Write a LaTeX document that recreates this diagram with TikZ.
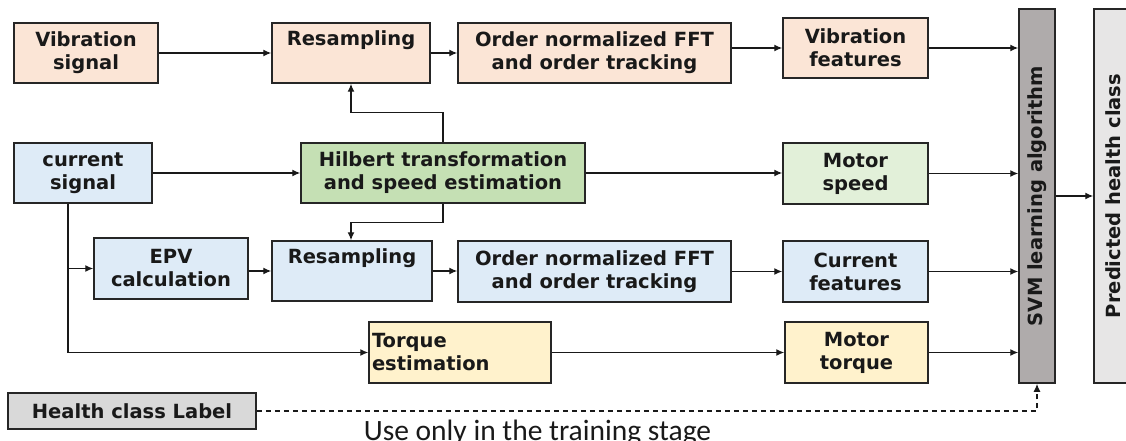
\documentclass[tikz,border=0pt]{standalone}
\usepackage{fontspec}
\setmainfont{DejaVu Sans}
\newfontfamily\notefont{Carlito}
\usetikzlibrary{arrows.meta}
\definecolor{peach}{HTML}{FBE5D6}
\definecolor{lblue}{HTML}{DEEBF7}
\definecolor{dgreen}{HTML}{C5E0B4}
\definecolor{lgreen}{HTML}{E2F0D9}
\definecolor{lyellow}{HTML}{FFF2CC}
\definecolor{svmgray}{HTML}{AFABAB}
\definecolor{predgray}{HTML}{E7E6E6}
\definecolor{lblgray}{HTML}{D9D9D9}
\definecolor{edge}{HTML}{262626}
\tikzset{
  blk/.style={draw=edge, line width=1.5pt, rectangle, inner sep=0pt, align=center,
    font=\fontsize{19.5}{23}\selectfont\bfseries, text=black!90},
  arr/.style={-{Latex[length=8pt,width=7pt]}, line width=1.3pt, draw=black!90},
  darr/.style={arr, dash pattern=on 5pt off 4pt},
}
\begin{document}
\begin{tikzpicture}[x=1pt,y=-1pt]
\useasboundingbox (0,0) rectangle (1126,441);
\clip (0,0) rectangle (1126,441);
% top row
\node[blk, fill=peach, minimum width=144, minimum height=60] (vib) at (86,53) {Vibration\\signal};
\node[blk, fill=peach, minimum width=158, minimum height=60] (res1) at (351,53) {Resampling\\\strut};
\node[blk, fill=peach, minimum width=273, minimum height=60] (fft1) at (594.5,53) {Order normalized FFT\\and order tracking};
\node[blk, fill=peach, minimum width=145, minimum height=60] (vibf) at (855.5,48) {Vibration\\features};
% middle row
\node[blk, fill=lblue, minimum width=138, minimum height=60] (cur) at (83,173) {current\\signal};
\node[blk, fill=dgreen, minimum width=284, minimum height=60] (hil) at (443,173) {Hilbert transformation\\and speed estimation};
\node[blk, fill=lgreen, minimum width=145, minimum height=61] (spd) at (855.5,173.5) {Motor\\speed};
% current row
\node[blk, fill=lblue, minimum width=154, minimum height=61] (epv) at (171,268.5) {EPV\\calculation};
\node[blk, fill=lblue, minimum width=160, minimum height=60] (res2) at (352,271) {Resampling\\\strut};
\node[blk, fill=lblue, minimum width=273, minimum height=61] (fft2) at (594.5,271.5) {Order normalized FFT\\and order tracking};
\node[blk, fill=lblue, minimum width=145, minimum height=61] (curf) at (855.5,271.5) {Current\\features};
% torque row
\node[blk, fill=lyellow, minimum width=182, minimum height=61, align=left, text width=176] (tqe) at (460,352.5) {Torque\\estimation};
\node[blk, fill=lyellow, minimum width=143, minimum height=61] (mtq) at (856.5,352.5) {Motor\\torque};
% right columns
\node[blk, fill=svmgray, minimum width=36, minimum height=374] (svm) at (1037,196) {};
\node[font=\fontsize{19.5}{23}\selectfont\bfseries, text=black!90, rotate=90] at (svm.center) {SVM learning algorithm};
\node[blk, fill=predgray, minimum width=46, minimum height=374] (pred) at (1117,196) {};
\node[font=\fontsize{19.5}{23}\selectfont\bfseries, text=black!90, rotate=90] at (1113,196) {Predicted health class};
% label
\node[blk, fill=lblgray, minimum width=248, minimum height=36] (hcl) at (132,411) {Health class Label};
\node[font=\notefont\fontsize{29.5}{30}\selectfont, anchor=base, text=black!90] (note) at (537.5,440) {Use only in the training stage};
% connectors
\draw[arr] (vib) -- (res1);
\draw[arr] (res1) -- (fft1);
\draw[arr] (fft1.east |- vibf.west) -- (vibf.west);
\draw[arr] (vibf.east) -- (vibf.east -| svm.west);
\draw[arr] (hil.north) -- ++(0,-30) -| (res1.south);
\draw[arr] (hil.south) -- ++(0,19) -| ([xshift=-1pt]res2.north);
\draw[arr] (cur) -- (hil);
\draw[arr] (hil.east) -- (hil.east -| spd.west);
\draw[arr] (spd.east) -- (spd.east -| svm.west);
\coordinate (cs) at ([xshift=-15pt]cur.south);
\draw[arr] (cs) |- (tqe.west);
\draw[arr] (epv.west -| cs) -- (epv.west);
\draw[arr] (epv.east |- res2.west) -- (res2.west);
\draw[arr] (res2.east) -- (res2.east -| fft2.west);
\draw[arr] (fft2.east) -- (fft2.east -| curf.west);
\draw[arr] (curf.east) -- (curf.east -| svm.west);
\draw[arr] (tqe) -- (mtq);
\draw[arr] (mtq.east) -- (mtq.east -| svm.west);
\draw[arr] (svm.east) -- (svm.east -| pred.west);
\draw[darr] (hcl.east) -| (svm.south);
\end{tikzpicture}
\end{document}
